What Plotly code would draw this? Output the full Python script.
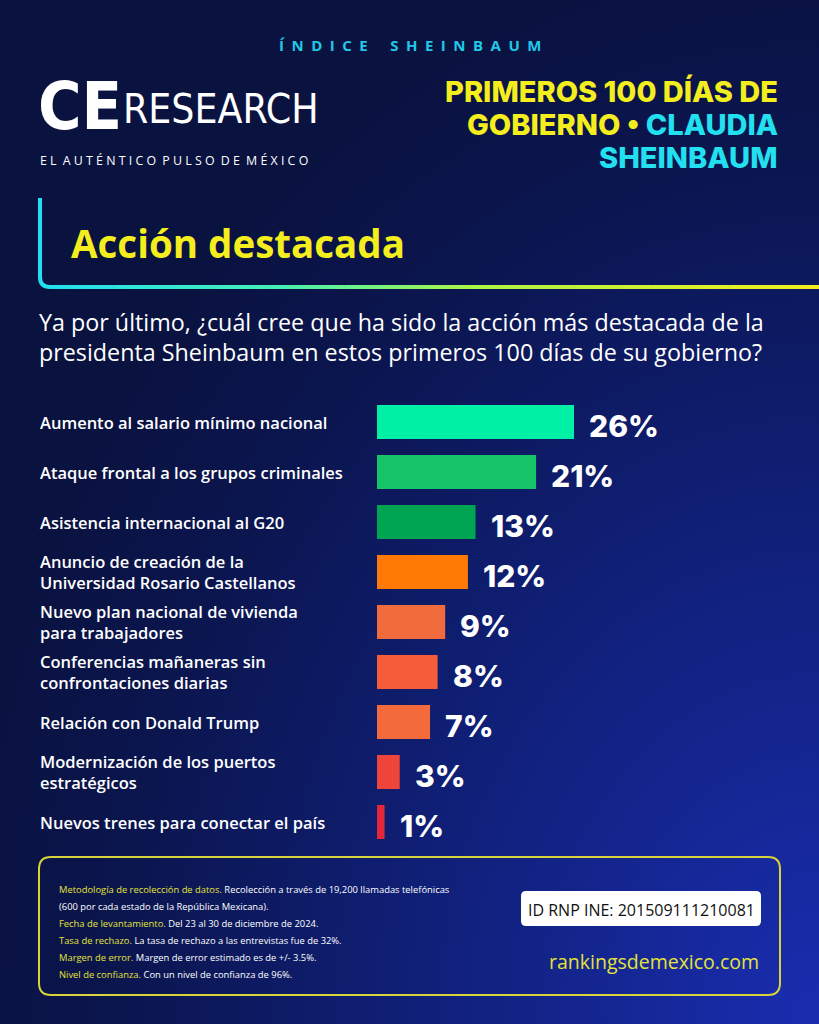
import base64
import plotly.graph_objects as go

W, H = 819, 1024

categories = [
    "Aumento al salario mínimo nacional",
    "Ataque frontal a los grupos criminales",
    "Asistencia internacional al G20",
    "Anuncio de creación de la<br>Universidad Rosario Castellanos",
    "Nuevo plan nacional de vivienda<br>para trabajadores",
    "Conferencias mañaneras sin<br>confrontaciones diarias",
    "Relación con Donald Trump",
    "Modernización de los puertos<br>estratégicos",
    "Nuevos trenes para conectar el país",
]
values = [26, 21, 13, 12, 9, 8, 7, 3, 1]
bar_colors = ["#00F0A6", "#14C466", "#00A552", "#FF7A05", "#F26B3C",
              "#F45C3A", "#F36B3B", "#EF4439", "#E2283A"]

def px(x):
    return x / W

def py(y):
    return 1 - y / H

fig = go.Figure()
fig.add_trace(go.Bar(
    x=values, y=categories, orientation="h",
    marker=dict(color=bar_colors, line=dict(width=0)),
    hoverinfo="skip",
))

# background gradient image
svg = (
    '<svg xmlns="http://www.w3.org/2000/svg" width="819" height="1024">'
    '<defs><radialGradient id="g" cx="1" cy="1" r="1.05" gradientUnits="objectBoundingBox">'
    '<stop offset="0" stop-color="#1A2DB0"/>'
    '<stop offset="0.45" stop-color="#10207A"/>'
    '<stop offset="0.8" stop-color="#0B1650"/>'
    '<stop offset="1" stop-color="#0A1240"/>'
    '</radialGradient></defs>'
    '<rect width="819" height="1024" fill="url(#g)"/></svg>'
)
src = "data:image/svg+xml;base64," + base64.b64encode(svg.encode()).decode()

plot_left, plot_right = 377, 777
scale = (574 - 377) / 26.0
x_max = (plot_right - plot_left) / scale

annotations = []

# category labels
for c in categories:
    annotations.append(dict(
        x=px(38), xref="paper", y=c, yref="y", text=c, showarrow=False,
        xanchor="left", yanchor="middle", align="left",
        font=dict(family="Open Sans", size=16.5, color="white", weight=600),
    ))
# value labels
for c, v in zip(categories, values):
    annotations.append(dict(
        x=v, xref="x", y=c, yref="y", text=f"{v}%", showarrow=False,
        xanchor="left", yanchor="middle", xshift=13, yshift=-4,
        font=dict(family="Inter", size=30, color="white", weight=800),
    ))

YEL = "#F4EE1E"
CYAN = "#22E0F0"
ES = "\u2002"
indice = (ES * 3).join(ES.join(list(w)) for w in ["ÍNDICE", "SHEINBAUM"])
pulso = (ES).join(" ".join(list(w)) for w in ["EL", "AUTÉNTICO", "PULSO", "DE", "MÉXICO"])

# header texts
annotations += [
    dict(x=px(410), y=py(45), text=indice, xanchor="center", yanchor="middle",
         font=dict(family="Open Sans", size=15, color="#22C8E8", weight=700)),
    dict(x=px(36), y=py(106), text="CE", xanchor="left", yanchor="middle",
         font=dict(family="DejaVu Sans Condensed, Liberation Sans", size=66, color="white", weight=700)),
    dict(x=px(121), y=py(109), text="RESEARCH", xanchor="left", yanchor="middle",
         font=dict(family="DejaVu Sans Condensed, Liberation Sans", size=40.5, color="white", weight=400)),
    dict(x=px(38), y=py(160), text=pulso, xanchor="left", yanchor="middle",
         font=dict(family="Open Sans", size=12.4, color="white", weight=400)),
    dict(x=px(780), y=py(91), text="PRIMEROS 100 DÍAS DE", xanchor="right", yanchor="middle",
         font=dict(family="Inter", size=29, color=YEL, weight=800)),
    dict(x=px(780), y=py(124), text=f"GOBIERNO • <span style='color:{CYAN}'>CLAUDIA</span>", xanchor="right", yanchor="middle",
         font=dict(family="Inter", size=29, color=YEL, weight=800)),
    dict(x=px(780), y=py(157), text="SHEINBAUM", xanchor="right", yanchor="middle",
         font=dict(family="Inter", size=29, color=CYAN, weight=800)),
    dict(x=px(69), y=py(243), text="Acción destacada", xanchor="left", yanchor="middle",
         font=dict(family="Open Sans", size=38.5, color=YEL, weight=700)),
    dict(x=px(37), y=py(337),
         text="Ya por último, ¿cuál cree que ha sido la acción más destacada de la<br>presidenta Sheinbaum en estos primeros 100 días de su gobierno?",
         xanchor="left", yanchor="middle", align="left",
         font=dict(family="Open Sans", size=23.3, color="white", weight=400)),
]

# footer
FY = "#E4E23A"
foot_lines = [
    (f"<span style='color:{FY}'>Metodología de recolección de datos.</span> Recolección a través de 19,200 llamadas telefónicas", 889),
    ("(600 por cada estado de la República Mexicana).", 906),
    (f"<span style='color:{FY}'>Fecha de levantamiento.</span> Del 23 al 30 de diciembre de 2024.", 923),
    (f"<span style='color:{FY}'>Tasa de rechazo.</span> La tasa de rechazo a las entrevistas fue de 32%.", 940),
    (f"<span style='color:{FY}'>Margen de error.</span> Margen de error estimado es de +/- 3.5%.", 957),
    (f"<span style='color:{FY}'>Nivel de confianza.</span> Con un nivel de confianza de 96%.", 974),
]
for t, y in foot_lines:
    annotations.append(dict(x=px(57), y=py(y), text=t, xanchor="left", yanchor="middle",
                            font=dict(family="Open Sans", size=9.4, color="white")))
annotations += [
    dict(x=px(641), y=py(910), text="ID RNP INE: 201509111210081", xanchor="center", yanchor="middle",
         font=dict(family="Open Sans", size=16, color="#111111", weight=500)),
    dict(x=px(761), y=py(961), text="rankingsdemexico.com", xanchor="right", yanchor="middle",
         font=dict(family="Open Sans", size=19.5, color=FY, weight=500)),
]
for a in annotations[2 * len(categories):]:
    a.setdefault("xref", "paper")
    a.setdefault("yref", "paper")
    a.setdefault("showarrow", False)

shapes = []
# section bracket: cyan vertical with rounded corner
shapes.append(dict(type="path", xref="paper", yref="paper",
                   path=f"M {px(40)} {py(198)} L {px(40)} {py(277)} Q {px(40)} {py(287)} {px(50)} {py(287)}",
                   line=dict(color=CYAN, width=4)))
# gradient horizontal line
def lerp(c1, c2, t):
    return tuple(int(round(a + (b - a) * t)) for a, b in zip(c1, c2))
stops = [(0.0, (34, 224, 240)), (0.3, (70, 240, 180)), (0.55, (170, 245, 70)), (1.0, (244, 238, 30))]
N = 60
x0, x1 = 49, 819
for i in range(N):
    t = (i + 0.5) / N
    for j in range(len(stops) - 1):
        if stops[j][0] <= t <= stops[j + 1][0]:
            tt = (t - stops[j][0]) / (stops[j + 1][0] - stops[j][0])
            col = lerp(stops[j][1], stops[j + 1][1], tt)
            break
    xa = x0 + (x1 - x0) * i / N
    xb = x0 + (x1 - x0) * (i + 1) / N + 0.6
    shapes.append(dict(type="line", xref="paper", yref="paper", x0=px(xa), x1=px(xb),
                       y0=py(287), y1=py(287), line=dict(color=f"rgb{col}", width=4)))

# footer rounded box
def rrect(xa, ya, xb, yb, r):
    return (f"M {px(xa + r)} {py(ya)} L {px(xb - r)} {py(ya)} Q {px(xb)} {py(ya)} {px(xb)} {py(ya + r)} "
            f"L {px(xb)} {py(yb - r)} Q {px(xb)} {py(yb)} {px(xb - r)} {py(yb)} "
            f"L {px(xa + r)} {py(yb)} Q {px(xa)} {py(yb)} {px(xa)} {py(yb - r)} "
            f"L {px(xa)} {py(ya + r)} Q {px(xa)} {py(ya)} {px(xa + r)} {py(ya)} Z")
shapes.append(dict(type="path", xref="paper", yref="paper", path=rrect(39, 857, 780, 995, 12),
                   line=dict(color="#D6D43A", width=2), fillcolor="rgba(0,0,0,0)"))
shapes.append(dict(type="path", xref="paper", yref="paper", path=rrect(521, 891, 761, 926, 5),
                   line=dict(color="white", width=0), fillcolor="white"))

fig.update_layout(
    width=W, height=H,
    margin=dict(l=0, r=0, t=0, b=0),
    paper_bgcolor="#0B1442", plot_bgcolor="rgba(0,0,0,0)",
    showlegend=False,
    bargap=0.32,
    xaxis=dict(domain=[px(plot_left), px(plot_right)], range=[0, x_max], visible=False, fixedrange=True),
    yaxis=dict(domain=[py(847), py(397)], autorange="reversed", visible=False, fixedrange=True),
    images=[dict(source=src, xref="paper", yref="paper", x=0, y=1, sizex=1, sizey=1,
                 sizing="stretch", xanchor="left", yanchor="top", layer="below")],
    annotations=annotations,
    shapes=shapes,
)

fig.write_html("out.html")
